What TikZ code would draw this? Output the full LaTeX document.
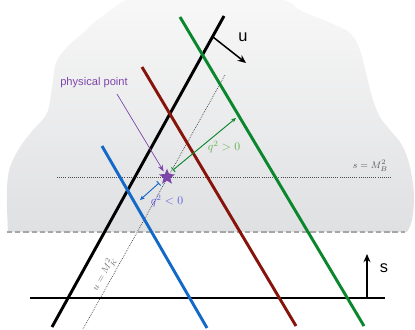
\documentclass[tikz,border=0pt]{standalone}
\usepackage{fontspec}
\usepackage{tikz}
\usetikzlibrary{calc,positioning,shapes.geometric,arrows.meta}
\newfontfamily\lsans{Liberation Sans}
\definecolor{lineGreen}{RGB}{10,135,45}
\definecolor{lineRed}{RGB}{135,20,10}
\definecolor{lineBlue}{RGB}{20,105,200}
\definecolor{starPurple}{RGB}{125,70,170}
\definecolor{labelGreen}{RGB}{100,180,80}
\definecolor{labelBlue}{RGB}{95,95,225}
\definecolor{blobTop}{RGB}{249,249,249}
\definecolor{blobBottom}{RGB}{223,224,226}

\begin{document}
\begin{tikzpicture}[x=0.03cm, y=-0.03cm, >=Stealth,
  thickline/.style={line width=2.5pt},
  sanslabel/.style={font=\lsans\fontsize{9.5}{11}\selectfont},
  biglabel/.style={font=\lsans\fontsize{14}{16}\selectfont},
  mathlabel/.style={font=\fontsize{10}{12}\selectfont},
  qarrow/.style={line width=0.8pt, {Bar[width=5pt]}-{Stealth[length=4pt,width=3.5pt]}},
  dirarrow/.style={line width=1.3pt, -{Stealth[length=7pt,width=6pt]}}]
  \useasboundingbox (0,0) rectangle (415,329);

  % grey region of the plane
  \shade[top color=blobTop, bottom color=blobBottom]
    plot[smooth, tension=0.6] coordinates {(8,232) (7,207) (7,187) (10,167) (20,147) (33,130) (47,113) (52,87) (56,63) (67,47) (83,33) (100,18) (140,-6) (210,-14) (283,0) (300,10) (333,24) (350,33) (360,50) (367,77) (373,100) (380,117) (390,130) (402,145) (410,167) (414,195) (412,220) (407,232)} -- cycle;
  \coordinate (cutL) at (7,232);
  \coordinate (cutR) at (405,232);
  \draw[gray!70, line width=1.2pt, dash pattern=on 4.5pt off 2.5pt] (cutL) -- (cutR);

  % threshold lines
  \coordinate (sthrL) at (57,177);
  \coordinate (sthrR) at (392,177);
  \draw[black!70, line width=0.8pt, densely dotted] (sthrL) -- (sthrR);
  \node[font=\footnotesize, text=black!65, anchor=east] (sLabel) at (392,166) {$s=M_B^2$};

  \coordinate (uthrTop) at (225,75);
  \coordinate (uthrBot) at (83,329);
  \draw[black!80, line width=0.6pt, densely dotted] (uthrTop) -- (uthrBot);
  \node[font=\footnotesize, text=black!55, rotate=60.5] (uLabel) at (104,274) {$u=M_K^2$};

  % axes
  \coordinate (sAxisL) at (30,298);
  \coordinate (sAxisR) at (385,298);
  \coordinate (uAxisB) at (52,327);
  \coordinate (uAxisT) at (224,16);
  \draw[thickline] (sAxisL) -- (sAxisR);
  \draw[thickline] (uAxisB) -- (uAxisT);

  % fixed-t lines
  \coordinate (blueT) at (102,146);
  \coordinate (blueB) at (207,328);
  \coordinate (redT) at (142,67);
  \coordinate (redB) at (296,326);
  \coordinate (greenT) at (180,17);
  \coordinate (greenB) at (364,326);
  \draw[thickline, lineBlue] (blueT) -- (blueB);
  \draw[thickline, lineRed] (redT) -- (redB);
  \draw[thickline, lineGreen] (greenT) -- (greenB);

  % directions
  \coordinate (uFoot) at (213,37);
  \coordinate (uTip) at (246,63);
  \draw[dirarrow] (uFoot) -- (uTip);
  \node[biglabel] (uName) at (243,37) {u};
  \coordinate (sFoot) at (367,298);
  \coordinate (sTip) at (367,254);
  \draw[dirarrow] (sFoot) -- (sTip);
  \node[biglabel] (sName) at (384,268) {s};

  % physical point
  \node[star, star points=5, star point ratio=2.3, fill=starPurple, inner sep=0pt, minimum size=0.5cm] (physStar) at (167,177) {};
  \node[sanslabel, text=starPurple] (physName) at (94,83) {physical point};
  \coordinate (physTail) at (117,94);
  \draw[->, starPurple, line width=0.6pt, shorten >=2pt] (physTail) -- (physStar);

  % momentum transfer
  \coordinate (qPosFoot) at (173,170);
  \coordinate (qPosTip) at (236,118);
  \draw[qarrow, lineGreen] (qPosFoot) -- (qPosTip);
  \node[mathlabel, text=labelGreen] (qPos) at (224,147) {$q^2>0$};
  \coordinate (qNegFoot) at (159,183);
  \coordinate (qNegTip) at (140,200);
  \draw[qarrow, lineBlue] (qNegFoot) -- (qNegTip);
  \node[mathlabel, text=labelBlue] (qNeg) at (167,201) {$q^2<0$};
\end{tikzpicture}
\end{document}
